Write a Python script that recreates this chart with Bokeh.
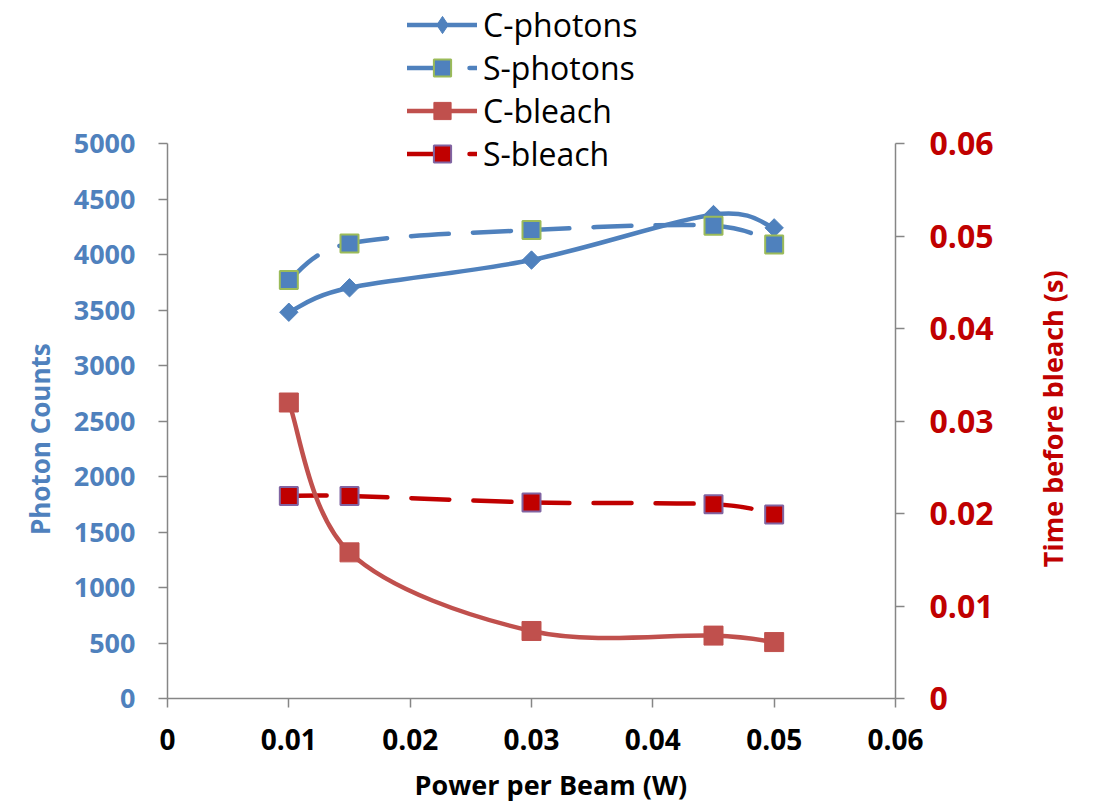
import numpy as np
from bokeh.plotting import figure
from bokeh.models import (Range1d, LinearAxis, FixedTicker, Legend, LegendItem,
                          ColumnDataSource)
from bokeh.embed import file_html
from bokeh.resources import INLINE

# ---- data ----
power = [0.01, 0.015, 0.03, 0.045, 0.05]
c_photons = [3480, 3700, 3950, 4360, 4240]
s_photons = [3770, 4100, 4220, 4260, 4090]
c_bleach = [0.032, 0.0158, 0.0073, 0.0068, 0.0061]
s_bleach = [0.0219, 0.0219, 0.0212, 0.0210, 0.0199]

x_ticks = [0, 0.01, 0.02, 0.03, 0.04, 0.05, 0.06]
left_ticks = [0, 500, 1000, 1500, 2000, 2500, 3000, 3500, 4000, 4500, 5000]
right_ticks = [0, 0.01, 0.02, 0.03, 0.04, 0.05, 0.06]

x_title = "Power per Beam (W)"
left_title = "Photon Counts"
right_title = "Time before bleach (s)"

BLUE = "#4F81BD"
GREEN = "#9BBB59"
RED = "#C0504D"
DRED = "#C00000"
PURPLE = "#8064A2"
GRAY = "#868686"
FONT = "Open Sans"

# layout: frame spans the full height above the x axis; axes are bounded to the
# plot area which starts 143 px below the top
W, H = 1093, 805
BORDER_L, BORDER_R, BORDER_B = 167, 198, 107
FRAME_H = H - BORDER_B
PLOT_TOP = 143
EXT = FRAME_H / (FRAME_H - PLOT_TOP)

# where the axis titles are anchored (axis units)
X_TITLE_AT = 0.0316      # centre of the x title
LEFT_TITLE_AT = 3200     # top end of the left title
RIGHT_TITLE_AT = 0.0142  # bottom end of the right title


def smooth_segments(xs, ys):
    """Bezier control points (Catmull-Rom style, like Excel's smoothed line)."""
    n = len(xs)
    d = dict(x0=[], y0=[], x1=[], y1=[], cx0=[], cy0=[], cx1=[], cy1=[])
    for i in range(n - 1):
        i0 = max(i - 1, 0)
        i3 = min(i + 2, n - 1)
        d["x0"].append(xs[i]); d["y0"].append(ys[i])
        d["x1"].append(xs[i + 1]); d["y1"].append(ys[i + 1])
        d["cx0"].append(xs[i] + (xs[i + 1] - xs[i0]) / 6.0)
        d["cy0"].append(ys[i] + (ys[i + 1] - ys[i0]) / 6.0)
        d["cx1"].append(xs[i + 1] - (xs[i3] - xs[i]) / 6.0)
        d["cy1"].append(ys[i + 1] - (ys[i3] - ys[i]) / 6.0)
    return ColumnDataSource(d)


p = figure(width=W, height=H, output_backend="svg", toolbar_location=None,
           x_range=Range1d(x_ticks[0], x_ticks[-1]),
           y_range=Range1d(0, left_ticks[-1] * EXT),
           min_border_left=BORDER_L, min_border_right=BORDER_R,
           min_border_top=0, min_border_bottom=BORDER_B)
p.outline_line_color = None
p.xgrid.visible = False
p.ygrid.visible = False
p.background_fill_color = "white"
p.border_fill_color = "white"
p.extra_y_ranges = {"time": Range1d(0, right_ticks[-1] * EXT)}

xaxis = p.xaxis[0]
yaxis = p.yaxis[0]
xaxis.ticker = FixedTicker(ticks=x_ticks)
yaxis.ticker = FixedTicker(ticks=left_ticks)
yaxis.bounds = (left_ticks[0], left_ticks[-1])

raxis = LinearAxis(y_range_name="time", ticker=FixedTicker(ticks=right_ticks),
                   bounds=(right_ticks[0], right_ticks[-1]))
p.add_layout(raxis, "right")

# axis titles drawn as the single label of bare axes (lets them be placed freely)
rtitle = LinearAxis(y_range_name="time", ticker=FixedTicker(ticks=[RIGHT_TITLE_AT]),
                    major_label_overrides={RIGHT_TITLE_AT: right_title},
                    major_label_orientation=np.pi / 2)
p.add_layout(rtitle, "right")
ltitle = LinearAxis(ticker=FixedTicker(ticks=[LEFT_TITLE_AT]),
                    major_label_overrides={LEFT_TITLE_AT: left_title},
                    major_label_orientation=np.pi / 2)
p.add_layout(ltitle, "left")
btitle = LinearAxis(ticker=FixedTicker(ticks=[X_TITLE_AT]),
                    major_label_overrides={X_TITLE_AT: x_title})
p.add_layout(btitle, "below")

for ax in (xaxis, yaxis, raxis, rtitle, ltitle, btitle):
    ax.axis_line_color = GRAY
    ax.axis_line_width = 1.5
    ax.major_tick_line_color = GRAY
    ax.major_tick_line_width = 1.5
    ax.major_tick_in = 0
    ax.major_tick_out = 9
    ax.minor_tick_in = 0
    ax.minor_tick_out = 0
    ax.major_label_text_font = FONT
    ax.major_label_text_font_style = "bold"

for ax in (rtitle, ltitle, btitle):
    ax.axis_line_color = None
    ax.major_tick_line_color = None
    ax.major_tick_out = 0

xaxis.major_label_text_font_size = "28px"
xaxis.major_label_text_color = "black"
xaxis.major_label_standoff = 21
btitle.major_label_text_font_size = "27px"
btitle.major_label_text_color = "black"
btitle.major_label_standoff = 13

yaxis.major_label_text_font_size = "27px"
yaxis.major_label_text_color = BLUE
yaxis.major_label_standoff = 23
ltitle.major_label_text_font_size = "26px"
ltitle.major_label_text_color = BLUE
ltitle.major_label_standoff = 30

raxis.major_label_text_font_size = "32px"
raxis.major_label_text_color = DRED
raxis.major_label_standoff = 25
rtitle.major_label_text_font_size = "27px"
rtitle.major_label_text_color = DRED
rtitle.major_label_standoff = 56

LW = 4.5
DASH = "38 24"
BZ = dict(x0="x0", y0="y0", x1="x1", y1="y1", cx0="cx0", cy0="cy0", cx1="cx1", cy1="cy1")

# C-photons
p.bezier(source=smooth_segments(power, c_photons), line_color=BLUE, line_width=LW,
         line_cap="round", line_join="round", **BZ)
cp_leg = p.scatter(power[:1], c_photons[:1], marker="diamond", size=16,
                   fill_color=BLUE, line_color=BLUE, line_width=1)
p.scatter(power, c_photons, marker="square", angle=np.pi / 4, size=13,
          fill_color=BLUE, line_color=BLUE, line_width=1)
# S-photons
p.bezier(source=smooth_segments(power, s_photons), line_color=BLUE, line_width=LW,
         line_dash=DASH, line_cap="round", line_join="round", **BZ)
sp_mk = p.scatter(power, s_photons, marker="square", size=18,
                  fill_color=BLUE, line_color=GREEN, line_width=2)
# S-bleach (right axis)
p.bezier(source=smooth_segments(power, s_bleach), line_color=DRED, line_width=LW,
         line_dash=DASH, line_cap="round", line_join="round",
         y_range_name="time", **BZ)
sb_mk = p.scatter(power, s_bleach, marker="square", size=18, y_range_name="time",
                  fill_color=DRED, line_color=PURPLE, line_width=2)
# C-bleach (right axis)
p.bezier(source=smooth_segments(power, c_bleach), line_color=RED, line_width=LW,
         line_cap="round", line_join="round", y_range_name="time", **BZ)
cb_mk = p.scatter(power, c_bleach, marker="square", size=19, y_range_name="time",
                  fill_color=RED, line_color=RED, line_width=1)


# one-point line renderers (draw nothing on the plot) used as legend line glyphs
def leg_line(xs, ys, color, dash, rng="default"):
    return p.line(xs[:1], ys[:1], line_color=color, line_width=LW, line_dash=dash,
                  line_cap="round", y_range_name=rng)


cp_ll = leg_line(power, c_photons, BLUE, "solid")
sp_ll = leg_line(power, s_photons, BLUE, DASH)
cb_ll = leg_line(power, c_bleach, RED, "solid", "time")
sb_ll = leg_line(power, s_bleach, DRED, DASH, "time")

legend = Legend(items=[
    LegendItem(label="C-photons", renderers=[cp_ll, cp_leg]),
    LegendItem(label="S-photons", renderers=[sp_ll, sp_mk]),
    LegendItem(label="C-bleach", renderers=[cb_ll, cb_mk]),
    LegendItem(label="S-bleach", renderers=[sb_ll, sb_mk]),
], location=(240, 523), orientation="vertical", border_line_color=None,
    background_fill_alpha=0, padding=0, margin=0, spacing=0, glyph_width=70,
    glyph_height=43, label_height=43, label_standoff=6, label_text_font=FONT,
    label_text_font_size="32px", label_text_color="black")
p.add_layout(legend, "center")

open("out.html", "w").write(file_html(p, INLINE))
